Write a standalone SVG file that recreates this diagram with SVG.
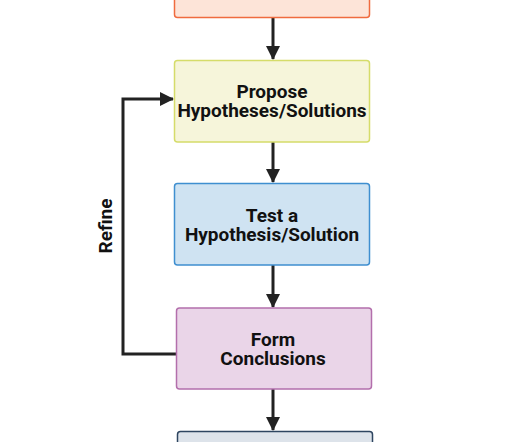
<svg xmlns="http://www.w3.org/2000/svg" width="531" height="442" viewBox="0 0 531 442">
<style>
.box{stroke-width:1.5}
.t{font-family:Roboto,"Liberation Sans",sans-serif;font-weight:bold;font-size:19px;fill:#111;text-anchor:middle}
.c{stroke:#222;stroke-width:3;fill:none}
</style>
<defs>
<marker id="ah" markerWidth="14" markerHeight="14" refX="13" refY="7" orient="auto" markerUnits="userSpaceOnUse" viewBox="0 0 14 14">
<path d="M0,0 L14,7 L0,14 z" fill="#222"/>
</marker>
</defs>
<rect width="531" height="442" fill="#fff"/>
<g id="connectors">
<line class="c" x1="273" y1="18" x2="273" y2="59" marker-end="url(#ah)"/>
<line class="c" x1="273" y1="142" x2="273" y2="182" marker-end="url(#ah)"/>
<line class="c" x1="273" y1="265" x2="273" y2="307" marker-end="url(#ah)"/>
<line class="c" x1="273" y1="389" x2="273" y2="430" marker-end="url(#ah)"/>
<path class="c" d="M176,354 H123 V99 H173" marker-end="url(#ah)"/>
<text class="t" transform="translate(112,226) rotate(-90)">Refine</text>
</g>
<g id="n1">
<rect class="box" x="174.5" y="-10" width="195" height="27.5" rx="3" fill="#fde4d8" stroke="#f06b3f"/>
</g>
<g id="n2">
<rect class="box" x="174.5" y="60.5" width="195" height="81.5" rx="3" fill="#f6f5da" stroke="#d5dc6a"/>
<text class="t" x="272" y="98">Propose</text>
<text class="t" x="272" y="117">Hypotheses/Solutions</text>
</g>
<g id="n3">
<rect class="box" x="174.5" y="183.5" width="195" height="81.5" rx="3" fill="#cfe3f2" stroke="#3f8fd0"/>
<text class="t" x="272" y="222">Test a</text>
<text class="t" x="272" y="241">Hypothesis/Solution</text>
</g>
<g id="n4">
<rect class="box" x="176.5" y="308" width="195" height="81" rx="3" fill="#ead5e8" stroke="#b36fac"/>
<text class="t" x="273" y="346">Form</text>
<text class="t" x="273" y="365">Conclusions</text>
</g>
<g id="n5">
<rect class="box" x="177.5" y="431.5" width="195" height="30" rx="3" fill="#dde3ea" stroke="#2e4560"/>
</g>
</svg>
